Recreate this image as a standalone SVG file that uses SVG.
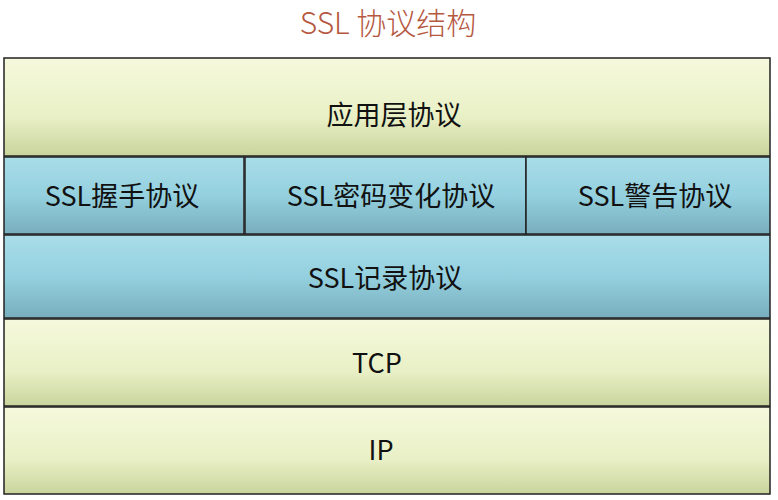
<svg xmlns="http://www.w3.org/2000/svg" width="778" height="500" viewBox="0 0 778 500">
<style>
.t{font-family:"Noto Sans CJK SC","Liberation Sans",sans-serif;font-size:27px;fill:#111;text-anchor:middle;dominant-baseline:central}
.g{fill:url(#gg);stroke:#222;stroke-width:1.5}
.b{fill:url(#bg);stroke:#222;stroke-width:1.5}
</style>
<defs>
<linearGradient id="gg" x1="0" y1="0" x2="0" y2="1">
<stop offset="0" stop-color="#f6f9dc"/><stop offset="0.6" stop-color="#e9f0c6"/><stop offset="1" stop-color="#c9d49c"/>
</linearGradient>
<linearGradient id="bg" x1="0" y1="0" x2="0" y2="1">
<stop offset="0" stop-color="#a9dde8"/><stop offset="0.5" stop-color="#94d0df"/><stop offset="1" stop-color="#78aebd"/>
</linearGradient>
</defs>
<rect width="778" height="500" fill="#fff"/>
<text x="388" y="34" style="font-family:'Noto Sans CJK SC','Liberation Sans',sans-serif;font-size:30px;font-weight:300;fill:#b5583f;text-anchor:middle">SSL 协议结构</text>
<g id="app"><rect class="g" x="4" y="58" width="766" height="98"/><text class="t" x="394" y="113">应用层协议</text></g>
<g id="handshake"><rect class="b" x="4" y="157" width="240" height="77"/><text class="t" x="122" y="194">SSL握手协议</text></g>
<g id="cipher"><rect class="b" x="245" y="157" width="281" height="77"/><text class="t" x="391" y="194">SSL密码变化协议</text></g>
<g id="alert"><rect class="b" x="526" y="157" width="244" height="77"/><text class="t" x="655" y="194">SSL警告协议</text></g>
<g id="record"><rect class="b" x="4" y="235" width="766" height="83"/><text class="t" x="385" y="276">SSL记录协议</text></g>
<g id="tcp"><rect class="g" x="4" y="319" width="766" height="87"/><text class="t" x="377" y="361">TCP</text></g>
<g id="ip"><rect class="g" x="4" y="407" width="766" height="87"/><text class="t" x="381" y="448">IP</text></g>
<g id="connectors"></g>
</svg>
